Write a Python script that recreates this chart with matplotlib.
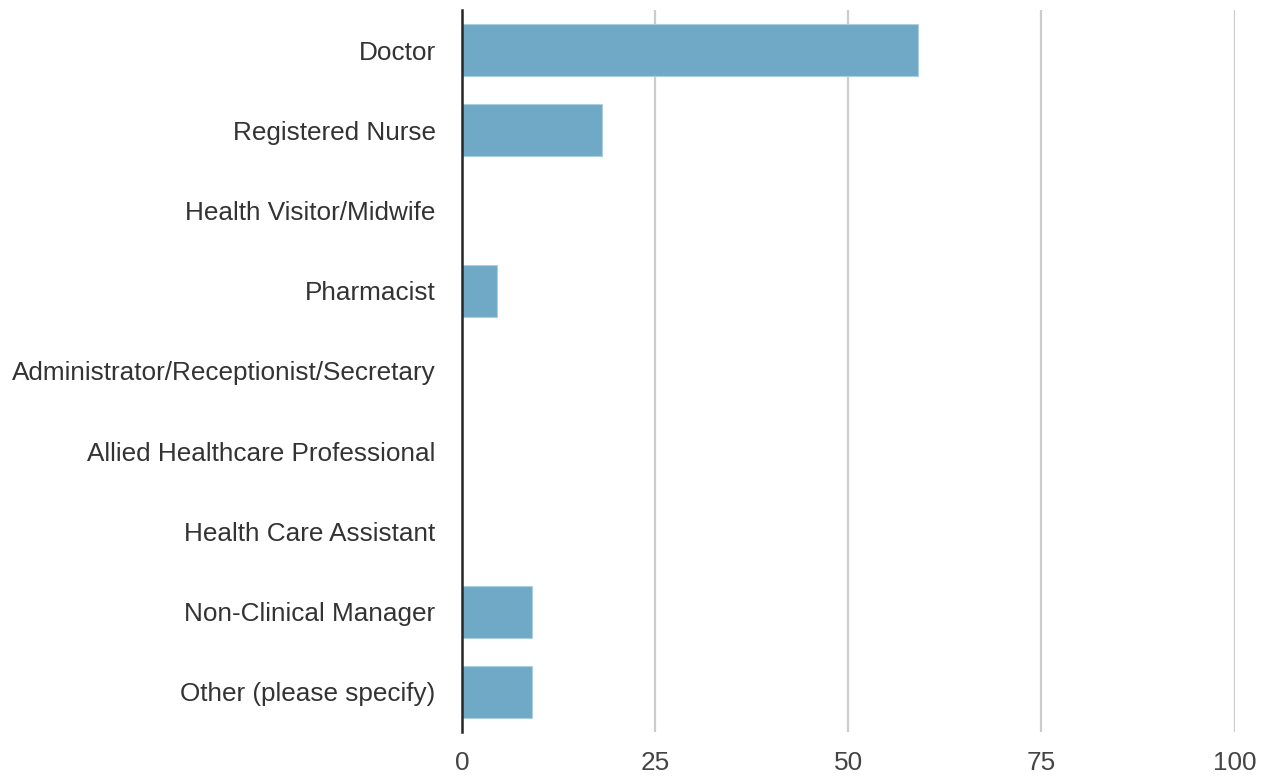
import matplotlib
matplotlib.use("Agg")
import matplotlib.pyplot as plt

categories = [
    "Doctor",
    "Registered Nurse",
    "Health Visitor/Midwife",
    "Pharmacist",
    "Administrator/Receptionist/Secretary",
    "Allied Healthcare Professional",
    "Health Care Assistant",
    "Non-Clinical Manager",
    "Other (please specify)",
]
values = [59.09, 18.18, 0, 4.55, 0, 0, 0, 9.09, 9.09]
xticks = [0, 25, 50, 75, 100]

plt.rcParams['font.family'] = ['Liberation Sans', 'DejaVu Sans']

fig = plt.figure(figsize=(12.74, 7.78), dpi=100)
ax = fig.add_axes([462/1274, 1 - 732/778, (1234.5-462)/1274, (732-10)/778])

ypos = list(range(len(categories)))
ax.barh(ypos, values, height=0.65, color="#70a9c6", edgecolor="#a9cfe0", linewidth=0.8, zorder=3)
ax.set_ylim(len(categories) - 0.5, -0.5)
ax.set_xlim(0, 100)
ax.set_yticks(ypos)
ax.set_yticklabels(categories, fontsize=18.8, color="#333333")
ax.set_xticks(xticks)
ax.set_xticklabels([str(t) for t in xticks], fontsize=18.8, color="#444444")
ax.tick_params(axis='x', length=0, pad=14)
ax.tick_params(axis='y', length=0, pad=19)
ax.grid(axis='x', color="#cccccc", linewidth=1.6, zorder=0)
ax.grid(axis='y', visible=False)
for s in ['top', 'right', 'bottom']:
    ax.spines[s].set_visible(False)
ax.spines['left'].set_color("#262626")
ax.spines['left'].set_linewidth(1.8)
ax.spines['left'].set_zorder(5)

fig.savefig("out.png", dpi=100)
